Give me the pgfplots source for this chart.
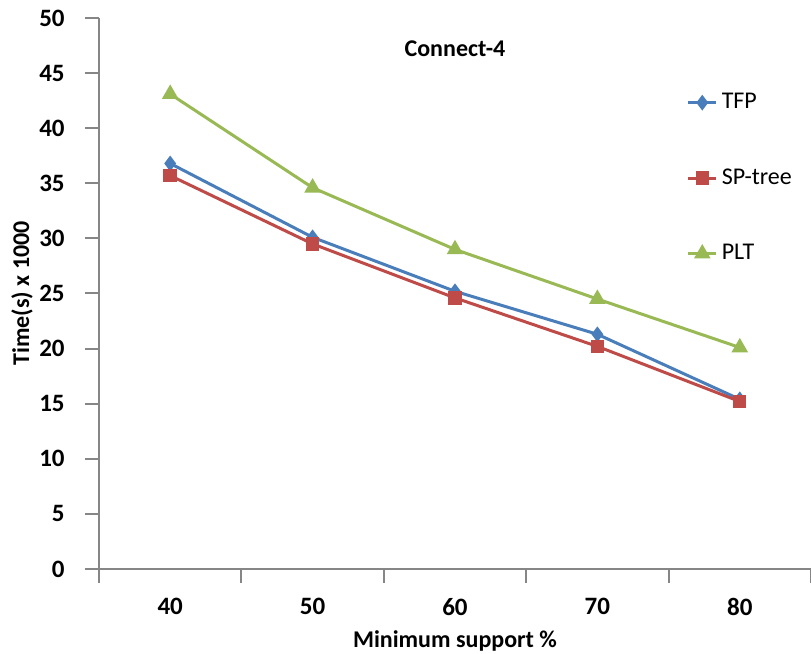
\documentclass[border=0pt]{standalone}
\usepackage{fontspec}
\setmainfont{Carlito}
\usepackage{pgfplots}
\pgfplotsset{compat=1.18}
\definecolor{sblue}{RGB}{74,126,187}
\definecolor{sred}{RGB}{190,75,72}
\definecolor{sgreen}{RGB}{152,185,84}
\definecolor{agray}{RGB}{134,134,134}
\begin{document}
\begin{tikzpicture}
\path[use as bounding box] (0,0) rectangle (405.5pt,327pt);
\begin{axis}[
  at={(49.5pt,42.5pt)}, anchor=south west,
  scale only axis, width=356pt, height=275.5pt,
  xmin=-0.5, xmax=4.5, ymin=0, ymax=50,
  axis x line*=bottom, axis y line*=left,
  axis line style={agray, line width=1pt, -},
  xtick={0,1,2,3,4}, xticklabels={40,50,60,70,80},
  major x tick style={draw=none},
  minor xtick={-0.5,0.5,1.5,2.5,3.5,4.5},
  minor x tick style={agray, line width=1pt},
  minor tick length=7pt,
  ytick={0,5,...,50},
  y tick style={agray, line width=1pt},
  major tick length=7pt,
  tick align=outside,
  /pgf/number format/assume math mode=true,
  ticklabel style={font=\fontsize{12.5}{14}\selectfont\bfseries},
  yticklabel style={anchor=east, inner sep=0pt, xshift=-10pt},
  xticklabel style={anchor=north, inner sep=0pt, yshift=-7.5pt},
  xlabel={Minimum support \%},
  ylabel={Time(s) x 1000},
  label style={font=\fontsize{12}{14}\selectfont\bfseries},
  xlabel style={at={(rel axis cs:0.5,0)}, anchor=center, yshift=-36pt},
  ylabel style={at={(rel axis cs:0,0.5)}, anchor=center, rotate=0, yshift=38.5pt},
  legend style={draw=none, fill=none, at={(rel axis cs:0.825,0.871)}, anchor=north west,
     font=\fontsize{12}{14}\selectfont, row sep=24.5pt, inner sep=0pt},
  legend cell align=left,
  legend image code/.code={\draw[mark repeat=2,mark phase=2] plot coordinates {(0pt,0pt)(7pt,0pt)(14pt,0pt)};},
  clip=false,
]
\addplot[sblue, line width=1.5pt, mark=diamond*, mark size=2.7pt, mark options={solid}] coordinates {(0,36.8) (1,30.1) (2,25.2) (3,21.3) (4,15.4)};
\addlegendentry{TFP}
\addplot[sred, line width=1.5pt, mark=square*, mark size=2.6pt] coordinates {(0,35.7) (1,29.5) (2,24.6) (3,20.2) (4,15.2)};
\addlegendentry{SP-tree}
\addplot[sgreen, line width=1.5pt, mark=triangle*, mark size=3.3pt] coordinates {(0,43.1) (1,34.6) (2,29.0) (3,24.5) (4,20.1)};
\addlegendentry{PLT}
\node[font=\fontsize{12}{14}\selectfont\bfseries] at (rel axis cs:0.5,0.945) {Connect-4};
\end{axis}
\end{tikzpicture}
\end{document}
